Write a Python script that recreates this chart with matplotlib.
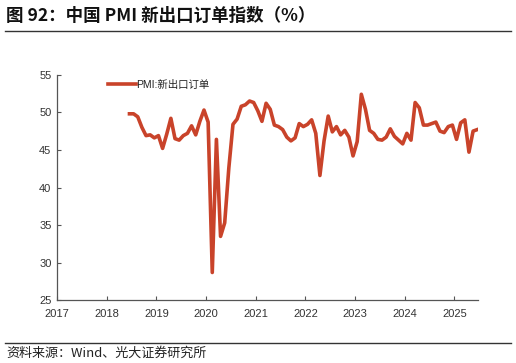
import matplotlib
matplotlib.use("Agg")
import matplotlib.pyplot as plt
from matplotlib.lines import Line2D

plt.rcParams['font.family'] = ['Liberation Sans', 'Noto Sans CJK SC', 'DejaVu Sans']

start_year = 2018
start_month = 6
values = [49.8, 49.8, 49.4, 48.0, 46.9, 47.0, 46.6,
          46.9, 45.2, 47.1, 49.2, 46.5, 46.3, 46.9, 47.2, 48.2, 47.0, 48.8, 50.3,
          48.7, 28.7, 46.4, 33.5, 35.3, 42.6, 48.4, 49.1, 50.8, 51.0, 51.5, 51.3,
          50.2, 48.8, 51.2, 50.4, 48.3, 48.1, 47.7, 46.7, 46.2, 46.6, 48.5, 48.1,
          48.4, 49.0, 47.2, 41.6, 46.2, 49.5, 47.4, 48.1, 47.0, 47.6, 46.7, 44.2,
          46.1, 52.4, 50.4, 47.6, 47.2, 46.4, 46.3, 46.7, 47.8, 46.8, 46.3, 45.8,
          47.2, 46.3, 51.3, 50.6, 48.3, 48.3, 48.5, 48.7, 47.5, 47.3, 48.1, 48.3,
          46.4, 48.6, 49.0, 44.7, 47.5, 47.7]
series_name = "PMI:新出口订单"
year_ticks = list(range(2017, 2026))
y_ticks = [25, 30, 35, 40, 45, 50, 55]

x = []
for i in range(len(values)):
    m = start_month - 1 + i
    x.append(start_year + m // 12 + ((m % 12) + 0.5) / 12)

fig = plt.figure(figsize=(5.16, 3.63), dpi=100)
ax = fig.add_axes([0.1105, 0.1727, 0.8155, 0.6215])
line_color = '#C9432A'
ax.plot(x, values, color=line_color, lw=2.6, solid_joinstyle='round')
ax.set_xlim(2017, 2025.47)
ax.set_ylim(25, 55)
ax.set_xticks(year_ticks)
ax.set_xticklabels([str(y) for y in year_ticks])
ax.set_yticks(y_ticks)
for s in ['top', 'right']:
    ax.spines[s].set_visible(False)
for s in ['left', 'bottom']:
    ax.spines[s].set_color('#555555')
    ax.spines[s].set_linewidth(0.9)
ax.tick_params(axis='both', direction='in', length=3, width=0.8, color='#555555',
               labelsize=8, labelcolor='#333333')
ax.tick_params(axis='x', pad=6)
ax.tick_params(axis='y', pad=4)

leg = ax.legend([Line2D([0], [0], color=line_color, lw=2.6)], [series_name],
                loc='upper left', bbox_to_anchor=(0.1, 1.02), frameon=False,
                fontsize=7.5, handlelength=2.6, handletextpad=0.1,
                prop={'family': ['Liberation Sans', 'Noto Sans CJK SC'], 'size': 7.5})
for t in leg.get_texts():
    t.set_color('#222222')

fig.text(0.012, 0.955, "图 92：中国 PMI 新出口订单指数（%）", fontsize=12.6, fontweight='bold',
         family=['Noto Sans CJK SC', 'DejaVu Sans'], va='center', ha='left', color='#111111')
fig.add_artist(Line2D([0.01, 0.99], [0.915, 0.915], color='#333333', lw=1.0))
fig.add_artist(Line2D([0.01, 0.99], [0.055, 0.055], color='#333333', lw=1.0))
fig.text(0.012, 0.027, "资料来源：Wind、光大证券研究所", fontsize=9.4,
         family=['Noto Sans CJK SC', 'DejaVu Sans'], va='center', ha='left', color='#222222')

fig.savefig("out.png", dpi=100)
